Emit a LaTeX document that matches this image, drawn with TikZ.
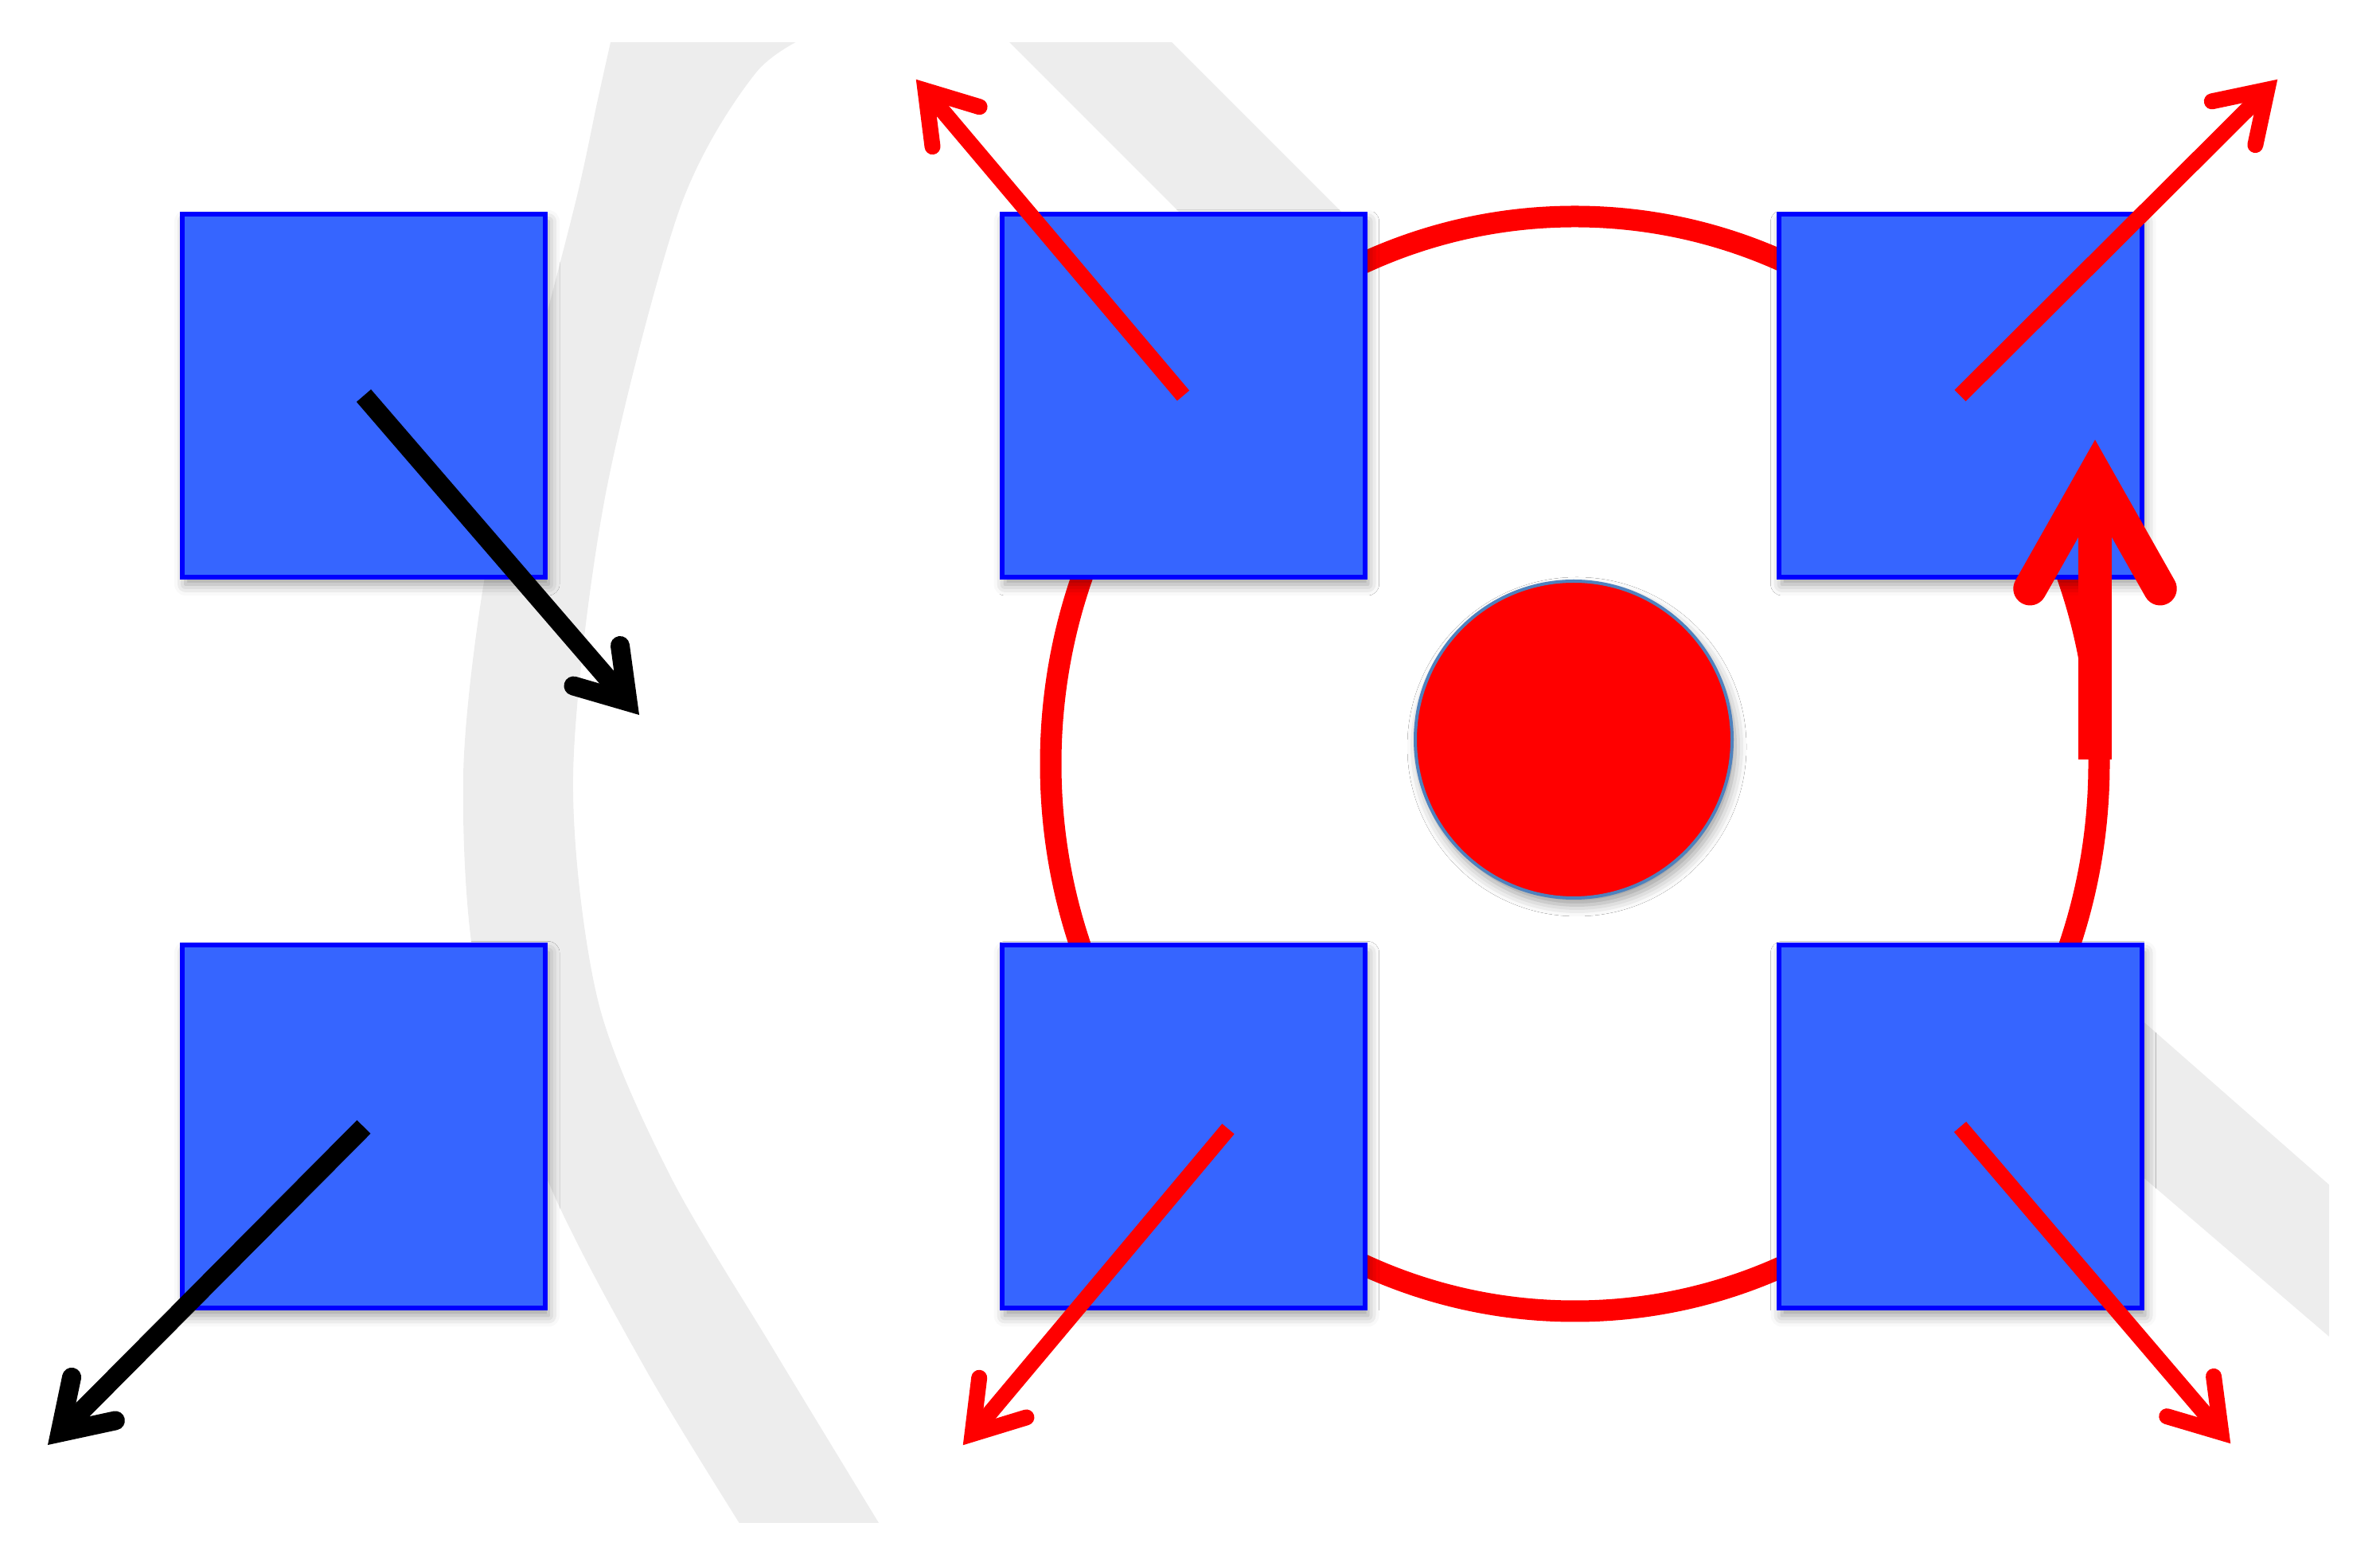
\documentclass[tikz,border=0pt]{standalone}
\usepackage{tikz}
\usetikzlibrary{calc,positioning,shadows.blur}
\definecolor{sqblue}{RGB}{54,101,255}
\definecolor{dotrim}{RGB}{79,129,189}
\definecolor{wmark}{RGB}{237,237,237}
\pgfdeclarelayer{back}
\pgfsetlayers{back,main}
\tikzset{soft/.style={blur shadow={shadow xshift=0.04cm,shadow yshift=-0.09cm,shadow blur radius=0.14cm,shadow opacity=40}}}
\tikzset{sq/.style={draw=blue,line width=0.06cm,fill=sqblue,minimum size=4.56cm,inner sep=0pt,soft}}
\tikzset{kick/.style={black,line width=0.24cm}}
\tikzset{spin/.style={red,line width=0.2cm}}
\tikzset{turn/.style={red,line width=0.42cm}}
% style, from, to, miter back-off, barb length, half angle
\newcommand{\shove}[6]{%
  \coordinate (#3-v) at ($(#3)!#4!(#2)$);
  \draw[#1] (#2) -- (#3-v);
  \draw[#1,line cap=round,line join=miter] ($(#3-v)!#5!#6:(#2)$) -- (#3-v) -- ($(#3-v)!#5!-#6:(#2)$);}

\begin{document}
\begin{tikzpicture}
\useasboundingbox (0,0) rectangle (29.9,19.51);
\pgfmathsetmacro{\XL}{4.57}
\pgfmathsetmacro{\XM}{14.865}
\pgfmathsetmacro{\XR}{24.625}
\pgfmathsetmacro{\YT}{14.54}
\pgfmathsetmacro{\YB}{5.355}
\node[sq] (lt) at (\XL,\YT) {};
\node[sq] (lb) at (\XL,\YB) {};
\node[sq] (mt) at (\XM,\YT) {};
\node[sq] (mb) at (\XM,\YB) {};
\node[sq] (rt) at (\XR,\YT) {};
\node[sq] (rb) at (\XR,\YB) {};
\node[circle,draw=dotrim,line width=0.04cm,fill=red,minimum size=3.98cm,soft] (hub) at (19.77,10.22) {};
\begin{pgfonlayer}{back}
\begin{scope}
\clip (0,0.38) rectangle (29.26,18.97);
\fill[wmark] plot[smooth] coordinates {(7.72,19.2) (7.51,18.26) (7.24,17.01) (6.60,14.50)
 (6.08,12.20) (5.82,9.76) (6.0,7.2) (6.93,4.57) (8.14,2.26) (9.40,0.2)}
 -- plot[smooth] coordinates {(11.15,0.2) (9.71,2.57) (8.41,4.76) (7.51,6.95) (7.20,9.76)
 (7.60,13.26) (8.54,16.89) (9.50,18.60) (10.35,19.15)} -- cycle;
\fill[wmark] (12.5,19.16) -- (14.54,19.16) -- (18.20,15.5) -- (16.16,15.5) -- cycle;
\fill[wmark] (25.00,8.37) -- (29.6,4.33) -- (29.6,2.43) -- (25.00,6.37) -- cycle;
\end{scope}
\fill[white] (mt.north west) rectangle (rb.south east);
\draw[red,line width=0.27cm] (19.785,9.915) ellipse [x radius=6.585cm,y radius=6.875cm];
\end{pgfonlayer}
\coordinate (lt-out) at (8.03,10.53);
\coordinate (lb-out) at (0.60,1.36);
\coordinate (mt-out) at (11.51,18.51);
\coordinate (rt-out) at (28.61,18.51);
\coordinate (mb-in) at (15.43,5.33);
\coordinate (mb-out) at (12.10,1.36);
\coordinate (rb-out) at (28.02,1.38);
\shove{kick}{lt.center}{lt-out}{0.22cm}{0.71cm}{33}
\shove{kick}{lb.center}{lb-out}{0.22cm}{0.71cm}{33}
\shove{spin}{mt.center}{mt-out}{0.18cm}{0.71cm}{33}
\shove{spin}{rt.center}{rt-out}{0.18cm}{0.71cm}{33}
\shove{spin}{mb-in}{mb-out}{0.18cm}{0.71cm}{33}
\shove{spin}{rb.center}{rb-out}{0.18cm}{0.71cm}{33}
% turning sense
\coordinate (turn-a) at (26.32,9.97);
\coordinate (turn-b) at (26.32,13.97);
\shove{turn}{turn-a}{turn-b}{0.41cm}{1.66cm}{29.5}
\end{tikzpicture}
\end{document}
